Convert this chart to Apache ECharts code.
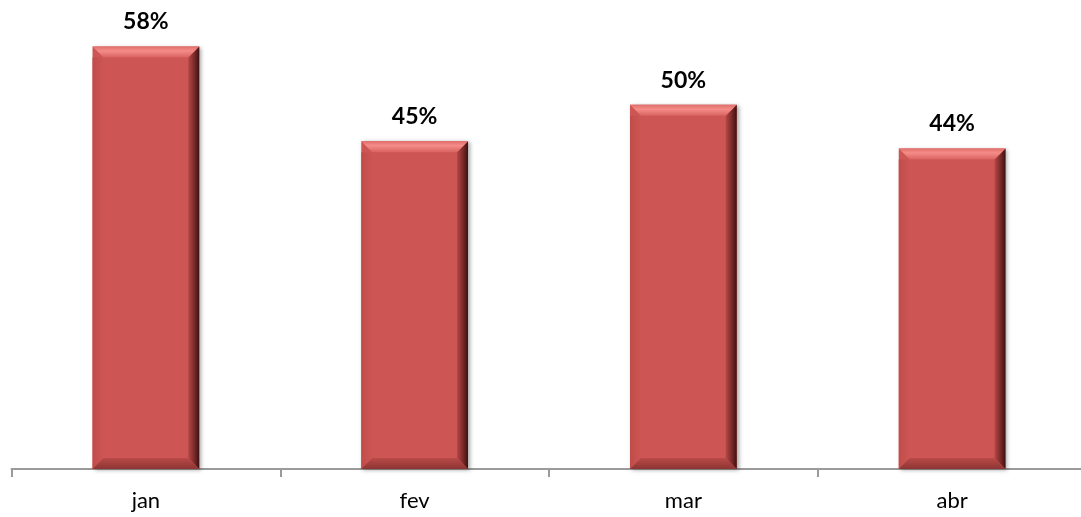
<!DOCTYPE html>
<html>
<head>
<meta charset="utf-8">
<script src="https://cdn.jsdelivr.net/npm/echarts@6/dist/echarts.min.js"></script>
<style>
  html, body { margin: 0; padding: 0; background: #ffffff; overflow: hidden; }
  #chart { width: 1100px; height: 517px; }
</style>
</head>
<body>
<div id="chart"></div>
<script>
// Monthly percentages
const months = ['jan', 'fev', 'mar', 'abr'];
const values = [58, 45, 50, 44];

const chart = echarts.init(document.getElementById('chart'));

const BAR_RATIO = 0.397;
const BEVEL = 11;

// Draws each bar as a bevelled block: face, lit top edge, shaded sides and base.
function renderBevelBar(params, api) {
  const top = api.coord([api.value(0), api.value(1)]);
  const base = api.coord([api.value(0), 0]);
  const w = api.size([1, 0])[0] * BAR_RATIO;
  const x0 = top[0] - w / 2, x1 = top[0] + w / 2;
  const y0 = top[1], y1 = base[1];
  const b = BEVEL;
  return {
    type: 'group',
    children: [
      {
        type: 'rect',
        shape: { x: x0, y: y0, width: w, height: y1 - y0 },
        style: { fill: '#cd5654', shadowBlur: 4, shadowOffsetX: 2, shadowOffsetY: 1, shadowColor: 'rgba(0,0,0,0.35)' }
      },
      {
        type: 'polygon',
        shape: { points: [[x0, y0 + b], [x0 + b, y0 + b], [x0 + b, y1 - b], [x0, y1]] },
        style: { fill: new echarts.graphic.LinearGradient(0, 0, 1, 0, [
          { offset: 0, color: '#c04c4a' }, { offset: 1, color: '#cd5654' }]) }
      },
      {
        type: 'polygon',
        shape: { points: [[x1, y0], [x1, y1], [x1 - b, y1 - b], [x1 - b, y0 + b]] },
        style: { fill: new echarts.graphic.LinearGradient(0, 0, 1, 0, [
          { offset: 0, color: '#b44846' }, { offset: 0.55, color: '#7a2a29' }, { offset: 1, color: '#3c1111' }]) }
      },
      {
        type: 'polygon',
        shape: { points: [[x0, y1], [x1, y1], [x1 - b, y1 - b], [x0 + b, y1 - b]] },
        style: { fill: new echarts.graphic.LinearGradient(0, 0, 0, 1, [
          { offset: 0, color: '#b94a48' }, { offset: 1, color: '#8d3533' }]) }
      },
      {
        type: 'polygon',
        shape: { points: [[x0, y0], [x1, y0], [x1 - b, y0 + b], [x0 + b, y0 + b]] },
        style: { fill: new echarts.graphic.LinearGradient(0, 0, 0, 1, [
          { offset: 0, color: '#e26f6c' }, { offset: 0.4, color: '#f48c88' }, { offset: 1, color: '#d9625f' }]) }
      }
    ]
  };
}

chart.setOption({
  animation: false,
  backgroundColor: '#ffffff',
  grid: { left: 11.5, top: 32, width: 1075, height: 437 },
  xAxis: {
    type: 'category',
    data: months,
    axisLine: { lineStyle: { color: '#9a9a9a', width: 2 } },
    axisTick: { show: true, length: 8, lineStyle: { color: '#9a9a9a', width: 2 } },
    axisLabel: {
      color: '#000000', fontSize: 22, margin: 21,
      fontFamily: 'Lato, "Open Sans", sans-serif'
    }
  },
  yAxis: {
    type: 'value', min: 0, max: 60, show: false,
    splitLine: { show: false }
  },
  series: [
    {
      type: 'custom',
      renderItem: renderBevelBar,
      data: months.map((m, i) => [i, values[i]]),
      encode: { x: 0, y: 1 },
      z: 2
    },
    {
      type: 'bar',
      data: values,
      barWidth: '39.7%',
      itemStyle: { color: 'rgba(0,0,0,0)' },
      silent: true,
      z: 3,
      label: {
        show: true, position: 'top', distance: 13,
        formatter: '{c}%',
        color: '#000000', fontSize: 23, fontWeight: 'bold',
        fontFamily: 'Lato, "Open Sans", sans-serif'
      }
    }
  ]
});
</script>
</body>
</html>
